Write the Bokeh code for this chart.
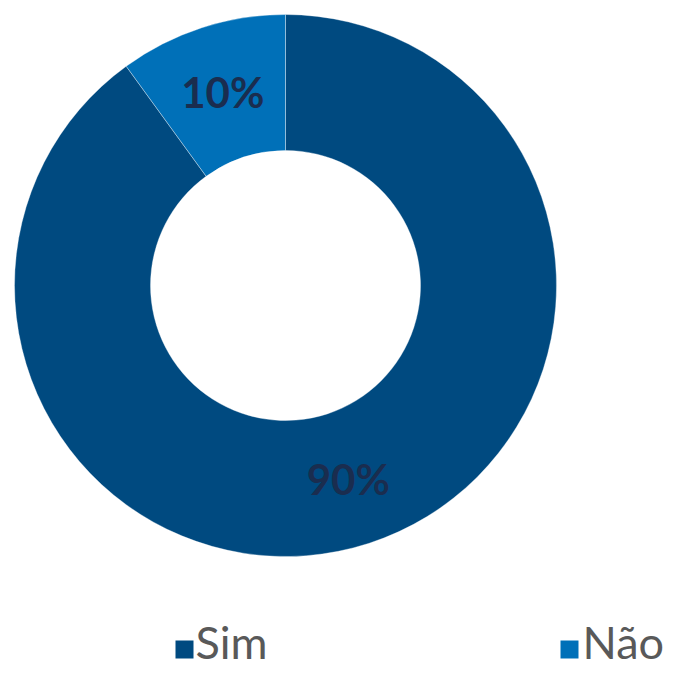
import numpy as np
from bokeh.plotting import figure
from bokeh.models import ColumnDataSource, Range1d
from bokeh.core.properties import value
from bokeh.embed import file_html
from bokeh.resources import INLINE

categories = ["Sim", "Não"]
shares = [90, 10]
labels = ["90%", "10%"]
colors = ["#004a80", "#0070b8"]

W, H = 685, 673
p = figure(width=W, height=H, output_backend="svg", toolbar_location=None,
           x_range=Range1d(0, W), y_range=Range1d(0, H), min_border=0)
p.axis.visible = False
p.grid.visible = False
p.outline_line_color = None
p.background_fill_color = "white"

def X(rx):
    return rx

def Y(ry):
    return H - ry

cx, cy = X(285), Y(285)
r_out, r_in = 271, 135

frac = np.array(shares, dtype=float) / sum(shares)
ends_cum = np.cumsum(frac)
starts_cum = ends_cum - frac
start = np.pi / 2 - 2 * np.pi * starts_cum
end = np.pi / 2 - 2 * np.pi * ends_cum
mid = (start + end) / 2
rl = (r_in + r_out) / 2

src = ColumnDataSource(dict(cat=categories, start=start, end=end, color=colors,
                            lx=cx + rl * np.cos(mid), ly=cy + rl * np.sin(mid), lab=labels))

p.annular_wedge(x=cx, y=cy, inner_radius=r_in, outer_radius=r_out,
                start_angle="start", end_angle="end", direction="clock",
                fill_color="color", line_color="white", line_alpha=0.35, line_width=1,
                source=src)

p.text(x="lx", y="ly", text="lab", source=src, text_align="center", text_baseline="middle",
       text_font=value("Lato"), text_font_style="bold", text_font_size="42px", text_color="#1a2d4f")

# legend
leg = ColumnDataSource(dict(
    sx=[X(184), X(569)], sy=[Y(649), Y(649)], color=colors,
    tx=[X(195), X(582)], ty=[Y(641), Y(641)], txt=categories))
p.rect(x="sx", y="sy", width=18, height=18, fill_color="color", line_color=None, source=leg)
p.text(x="tx", y="ty", text="txt", source=leg, text_align="left", text_baseline="middle",
       text_font=value("Lato"), text_font_size="45px", text_color="#595959")

open("out.html", "w").write(file_html(p, INLINE))
